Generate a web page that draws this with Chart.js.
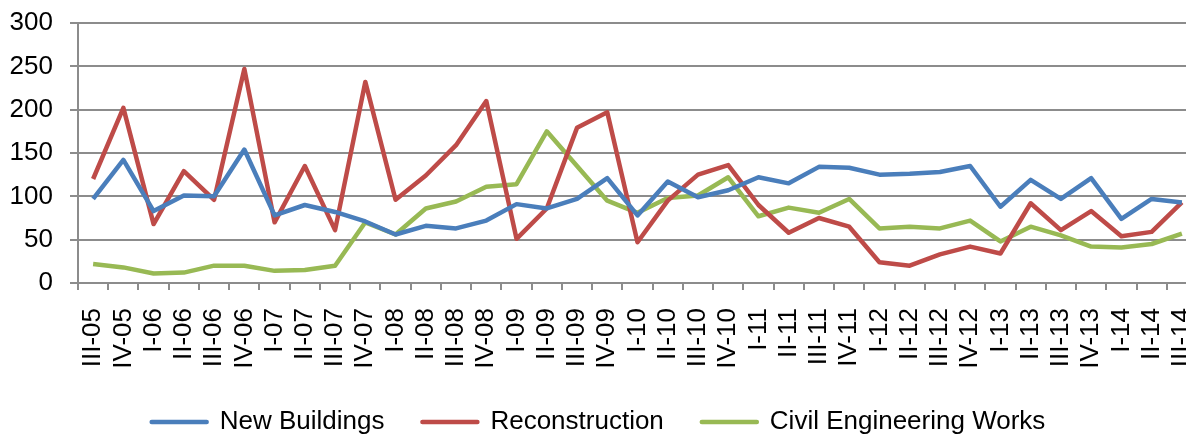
<!DOCTYPE html>
<html>
<head>
<meta charset="utf-8">
<script src="https://cdn.jsdelivr.net/npm/chart.js@4/dist/chart.umd.min.js"></script>
<style>
  html, body { margin: 0; padding: 0; background: #fff; overflow: hidden; }
  canvas { display: block; }
</style>
</head>
<body>
<canvas id="chart" width="1216" height="437"></canvas>
<script>
const quarters = [
  "III-05", "IV-05", "I-06", "II-06", "III-06", "IV-06", "I-07", "II-07", "III-07", "IV-07",
  "I-08", "II-08", "III-08", "IV-08", "I-09", "II-09", "III-09", "IV-09", "I-10", "II-10",
  "III-10", "IV-10", "I-11", "II-11", "III-11", "IV-11", "I-12", "II-12", "III-12", "IV-12",
  "I-13", "II-13", "III-13", "IV-13", "I-14", "II-14", "III-14",
];

const newBuildings = [
  97, 142, 83, 101, 100, 154, 78, 90, 82, 71,
  56, 66, 63, 72, 91, 86, 97, 121, 78, 117,
  99, 107, 122, 115, 134, 133, 125, 126, 128, 135,
  88, 119, 97, 121, 74, 97, 93,
];

const reconstruction = [
  120, 202, 68, 129, 96, 247, 70, 135, 61, 232,
  96, 124, 159, 210, 51, 86, 179, 197, 47, 95,
  125, 136, 90, 58, 75, 65, 24, 20, 33, 42,
  34, 92, 61, 83, 54, 59, 93,
];

const civilWorks = [
  22, 18, 11, 12, 20, 20, 14, 15, 20, 70,
  56, 86, 94, 111, 114, 175, 135, 95, 81, 98,
  101, 122, 77, 87, 81, 97, 63, 65, 63, 72,
  48, 65, 55, 42, 41, 45, 57,
];

const yTicks = [0, 50, 100, 150, 200, 250, 300];

const gridGray = "#8c8c8c";

Chart.defaults.font.family = "'Liberation Sans', Arial, sans-serif";
Chart.defaults.font.size = 26;
Chart.defaults.color = "#000";

function series(label, data, color) {
  return {
    label,
    data,
    borderColor: color,
    backgroundColor: color,
    borderWidth: 4.5,
    borderJoinStyle: "round",
    pointRadius: 0,
    pointHoverRadius: 0,
    tension: 0,
  };
}

// legend sits lower than chart.js would put it
const legendHeight = {
  id: "legendHeight",
  beforeInit(chart) {
    if (!chart.legend) return;
    const fit = chart.legend.fit;
    chart.legend.fit = function () {
      fit.bind(chart.legend)();
      this.height = 66;
    };
  },
};

new Chart(document.getElementById("chart"), {
  type: "line",
  data: {
    labels: quarters,
    datasets: [
      series("New Buildings", newBuildings, "#4A7EBB"),
      series("Reconstruction", reconstruction, "#BE4B48"),
      series("Civil Engineering Works", civilWorks, "#98B954"),
    ],
  },
  plugins: [legendHeight],
  options: {
    responsive: false,
    animation: false,
    layout: {
      padding: { top: 23, right: 19, bottom: 0, left: 0 },
    },
    plugins: {
      tooltip: { enabled: false },
      legend: {
        position: "bottom",
        labels: {
          usePointStyle: true,
          pointStyle: "line",
          pointStyleWidth: 55,
          padding: 38,
          generateLabels(chart) {
            return Chart.defaults.plugins.legend.labels
              .generateLabels(chart)
              .map((item) => ({ ...item, lineCap: "round" }));
          },
        },
      },
    },
    scales: {
      x: {
        offset: true,
        afterFit(scale) {
          scale.height = 88;
          scale.paddingLeft = 0;
          scale.paddingRight = 0;
        },
        border: { display: true, color: gridGray, width: 2 },
        grid: {
          offset: true,
          drawOnChartArea: false,
          drawTicks: true,
          tickLength: 7,
          color: gridGray,
          lineWidth: 2,
        },
        ticks: {
          autoSkip: false,
          minRotation: 90,
          maxRotation: 90,
          padding: 18,
        },
      },
      y: {
        min: 0,
        max: 300,
        afterFit(scale) {
          scale.width = 78;
          scale.paddingTop = 0;
          scale.paddingBottom = 0;
        },
        afterBuildTicks(scale) {
          scale.ticks = yTicks.map((v) => ({ value: v }));
        },
        border: { display: true, color: gridGray, width: 2 },
        grid: {
          color: gridGray,
          lineWidth: 2,
          drawTicks: true,
          tickLength: 8,
        },
        ticks: {
          padding: 17,
        },
      },
    },
  },
});
</script>
</body>
</html>
